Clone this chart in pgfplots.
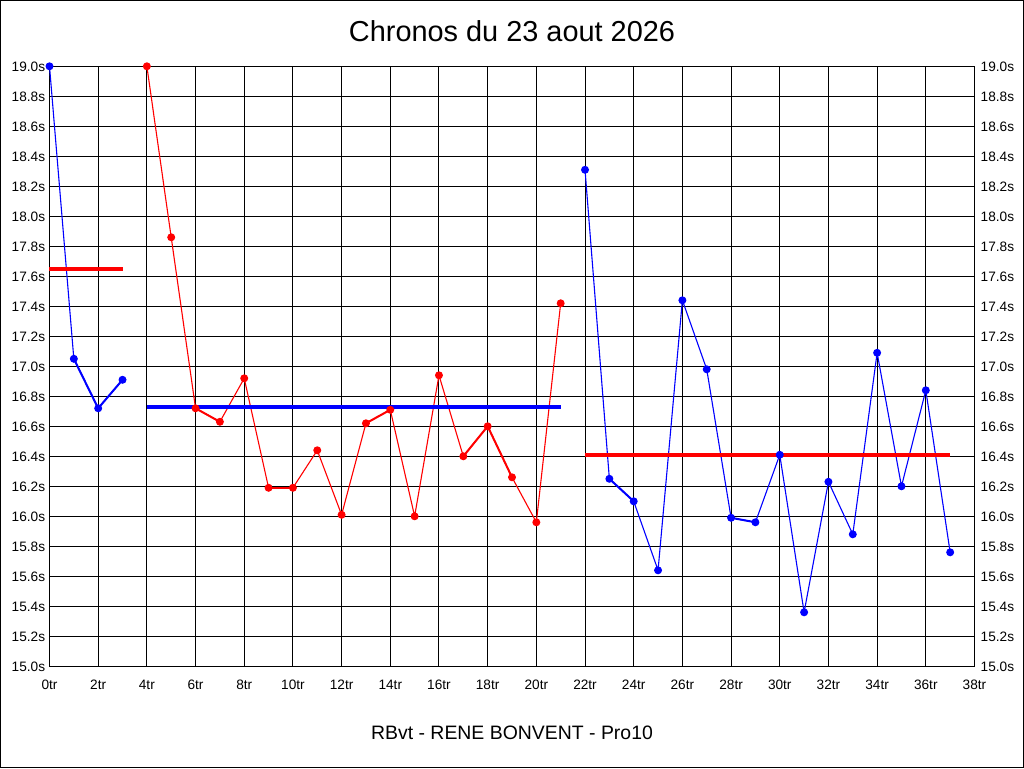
\documentclass[border=0pt]{standalone}
\usepackage{pgfplots}
\pgfplotsset{compat=1.18}
\usepackage{fontspec}
\setmainfont{Liberation Sans}
\definecolor{cblue}{RGB}{0,0,255}
\definecolor{cred}{RGB}{255,0,0}
\pgfplotsset{
  common/.style={
    at={(0,0)}, anchor=south west,
    scale only axis, width=925bp, height=600bp,
    xmin=0, xmax=38, ymin=15, ymax=19,
    xtick={0,2,4,6,8,10,12,14,16,18,20,22,24,26,28,30,32,34,36,38},
    ytick={15,15.2,15.4,15.6,15.8,16,16.2,16.4,16.6,16.8,17,17.2,17.4,17.6,17.8,18,18.2,18.4,18.6,18.8,19},
    major tick length=0pt,
    axis line style={black, line width=1bp},
    tick label style={font=\fontsize{13.7}{13.7}\selectfont, inner sep=0pt, black, text height=10bp, text depth=0pt},
    /pgf/number format/assume math mode=true,
    yticklabel={\pgfmathprintnumber[fixed,fixed zerofill,precision=1]{\tick}s},
    clip=false,
  }
}
\begin{document}
\begin{tikzpicture}
\useasboundingbox (-49.5bp,-102bp) rectangle (974.5bp,666.3bp);
\fill[white] (-49.5bp,-102bp) rectangle (974.5bp,666.3bp);
\draw[black, line width=1.5bp] (-48.75bp,-101.25bp) rectangle (973.75bp,665.55bp);
\begin{axis}[common,
  grid=major, major grid style={black, line width=1bp},
  xticklabel={\pgfmathprintnumber{\tick}tr},
  xticklabel shift=13bp,
  yticklabel shift=4.2bp,
  every axis title/.style={at={(axis description cs:0.5,1)}, anchor=base, yshift=24.8bp, inner sep=0pt, font=\fontsize{29}{30}\selectfont},
  title={Chronos du 23 aout 2026},
  every axis x label/.style={at={(axis description cs:0.5,0)}, anchor=base, yshift=-73bp, inner sep=0pt, font=\fontsize{19.5}{20}\selectfont},
  xlabel={RBvt - RENE BONVENT - Pro10},
]
% first block (blue)
\addplot[cblue, line width=1.1bp, mark=*, mark size=3.4bp, mark options={fill=cblue}]
  coordinates {(0,19.0)(1,17.05)(2,16.72)(3,16.91)};
\addplot[cblue, line width=2bp] coordinates {(1,17.05)(2,16.72)(3,16.91)};
% second block (red)
\addplot[cred, line width=1.1bp, mark=*, mark size=3.4bp, mark options={fill=cred}]
  coordinates {(4,19.0)(5,17.86)(6,16.72)(7,16.63)(8,16.92)(9,16.19)(10,16.19)(11,16.44)(12,16.01)(13,16.62)(14,16.71)(15,16.00)(16,16.94)(17,16.40)(18,16.60)(19,16.26)(20,15.96)(21,17.42)};
\addplot[cred, line width=2bp] coordinates {(6,16.72)(7,16.63)};
\addplot[cred, line width=2bp] coordinates {(9,16.19)(10,16.19)};
\addplot[cred, line width=2bp] coordinates {(13,16.62)(14,16.71)};
\addplot[cred, line width=2bp] coordinates {(17,16.40)(18,16.60)(19,16.26)};
% third block (blue)
\addplot[cblue, line width=1.1bp, mark=*, mark size=3.4bp, mark options={fill=cblue}]
  coordinates {(22,18.31)(23,16.25)(24,16.10)(25,15.64)(26,17.44)(27,16.98)(28,15.99)(29,15.96)(30,16.41)(31,15.36)(32,16.23)(33,15.88)(34,17.09)(35,16.20)(36,16.84)(37,15.76)};
\addplot[cblue, line width=2bp] coordinates {(23,16.25)(24,16.10)};
\addplot[cblue, line width=2bp] coordinates {(28,15.99)(29,15.96)};
% averages
\addplot[cred, line width=3.5bp] coordinates {(0,17.65)(3,17.65)};
\addplot[cblue, line width=3.5bp] coordinates {(4,16.73)(21,16.73)};
\addplot[cred, line width=3.5bp] coordinates {(22,16.41)(37,16.41)};
\end{axis}
\begin{axis}[common,
  axis y line*=right, axis x line=none,
  yticklabel shift=6bp,
]
\end{axis}
\end{tikzpicture}
\end{document}
